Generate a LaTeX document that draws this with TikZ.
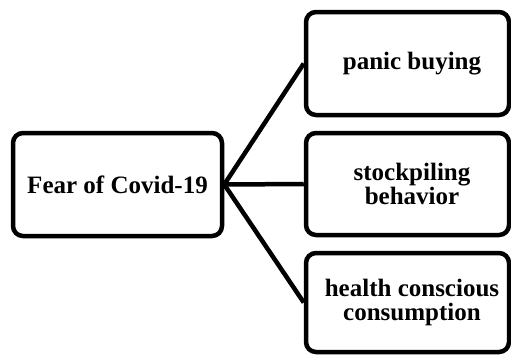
\documentclass[tikz,border=0pt]{standalone}
\usepackage{fontspec}
\setmainfont{Liberation Serif}
\newcommand{\rsh}{\hspace*{9pt}}
\begin{document}
\begin{tikzpicture}[x=1pt,y=1pt,
  box/.style={draw=black, line width=4.5pt, rounded corners=10pt, rectangle,
    align=center, inner sep=2pt, fill=white,
    font=\bfseries\fontsize{25}{24}\selectfont},
  link/.style={draw=black, line width=4.5pt}]
\useasboundingbox (0,0) rectangle (511,-354);
\node[box, minimum width=209pt, minimum height=103pt] (fear) at (117.5,-184.5) {Fear of Covid-19};
\node[box, minimum width=203pt, minimum height=103pt] (panic) at (407.5,-63.5) {\rsh panic buying};
\node[box, minimum width=203pt, minimum height=102pt] (stock) at (407.5,-184) {\rsh stockpiling\\\rsh behavior};
\node[box, minimum width=203pt, minimum height=99pt] (health) at (407.5,-302.5) {\rsh health conscious\\\rsh consumption};
\draw[link] (fear.east) -- (panic.west);
\draw[link] (fear.east) -- (stock.west);
\draw[link] (fear.east) -- (health.west);
\end{tikzpicture}
\end{document}
